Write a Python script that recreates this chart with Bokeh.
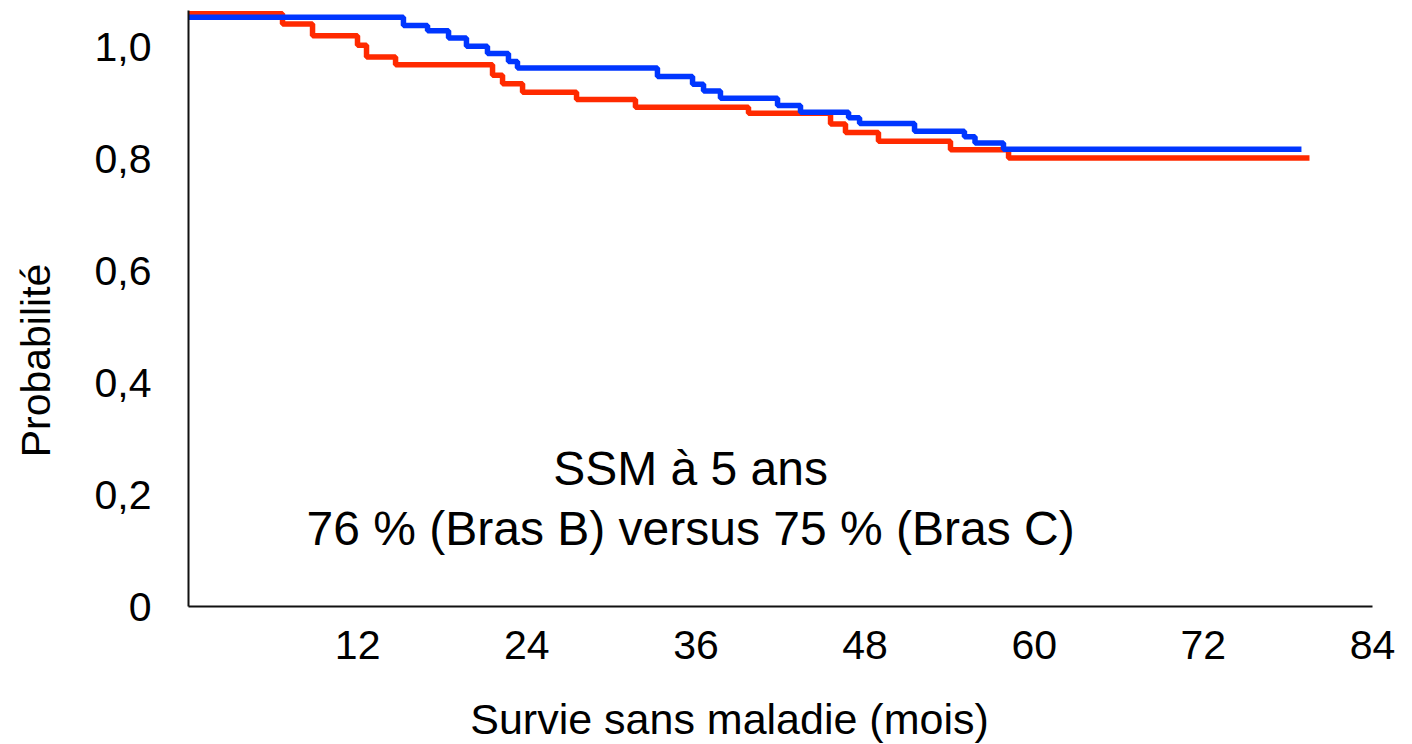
from bokeh.plotting import figure
from bokeh.models import Range1d, FixedTicker, Label
from bokeh.embed import file_html
from bokeh.resources import INLINE
import math

# Bras C (red) Kaplan-Meier steps: time (months) and survival probability
red_time = [0, 6.67, 8.80, 11.99, 12.63, 14.69, 21.57, 22.28, 23.70, 27.53,
            31.71, 39.73, 45.55, 46.61, 48.95, 54.06, 58.18, 79.53]
red_surv = [1.060, 1.042, 1.021, 1.004, 0.983, 0.969, 0.950, 0.935, 0.920, 0.907,
            0.893, 0.882, 0.863, 0.848, 0.832, 0.817, 0.802, 0.802]

# Bras B (blue)
blue_time = [0, 15.25, 16.96, 18.45, 19.72, 21.21, 22.70, 23.34, 33.27, 35.76,
             36.54, 37.74, 41.79, 43.42, 46.83, 47.61, 51.51, 55.05, 55.80, 57.82, 78.96]
blue_surv = [1.054, 1.039, 1.030, 1.017, 1.002, 0.989, 0.975, 0.963, 0.948, 0.934,
             0.922, 0.909, 0.896, 0.884, 0.874, 0.864, 0.850, 0.840, 0.829, 0.818, 0.818]

x_ticks = [12, 24, 36, 48, 60, 72, 84]
y_ticks = [0, 0.2, 0.4, 0.6, 0.8, 1.0]
y_tick_labels = ["0", "0,2", "0,4", "0,6", "0,8", "1,0"]

x_title = "Survie sans maladie (mois)"
y_title = "Probabilité"
note_line1 = "SSM à 5 ans"
note_line2 = "76 % (Bras B) versus 75 % (Bras C)"

FONT = "Liberation Sans"

p = figure(width=1412, height=744, output_backend="svg", toolbar_location=None,
           x_range=Range1d(0, 84), y_range=Range1d(0, 1.066),
           min_border_left=188, min_border_right=40, min_border_top=10, min_border_bottom=138)
p.outline_line_color = None
p.xgrid.visible = False
p.ygrid.visible = False
p.background_fill_color = "white"
p.border_fill_color = "white"

for ax in (p.xaxis[0], p.yaxis[0]):
    ax.axis_line_color = "#111111"
    ax.axis_line_width = 2
    ax.major_tick_line_color = None
    ax.minor_tick_line_color = None
    ax.major_label_text_font = FONT
    ax.major_label_text_font_size = "41px"
    ax.major_label_text_color = "black"

p.xaxis[0].ticker = FixedTicker(ticks=x_ticks)
p.xaxis[0].major_label_standoff = 18
p.yaxis[0].ticker = FixedTicker(ticks=y_ticks)
p.yaxis[0].major_label_overrides = {t: l for t, l in zip(y_ticks, y_tick_labels)}
p.yaxis[0].major_label_standoff = 31

p.step(red_time, red_surv, mode="after", line_color="#FF2A00", line_width=5.5)
p.step(blue_time, blue_surv, mode="after", line_color="#0036FF", line_width=5.5)

p.add_layout(Label(x=35.62, y=0.247, text=note_line1, text_align="center",
                   text_baseline="middle", text_font=FONT, text_font_size="48px",
                   text_color="black"))
p.add_layout(Label(x=35.62, y=0.1395, text=note_line2, text_align="center",
                   text_baseline="middle", text_font=FONT, text_font_size="48px",
                   text_color="black"))

p.add_layout(Label(x=729, y=718, x_units="canvas", y_units="canvas", text=x_title,
                   text_align="center", text_baseline="middle", text_font=FONT,
                   text_font_size="43px", text_color="black"), "below")
p.add_layout(Label(x=35, y=360, x_units="canvas", y_units="canvas", text=y_title,
                   angle=math.pi / 2, text_align="center", text_baseline="middle",
                   text_font=FONT, text_font_size="41px", text_color="black"), "left")

open("out.html", "w").write(file_html(p, INLINE))
